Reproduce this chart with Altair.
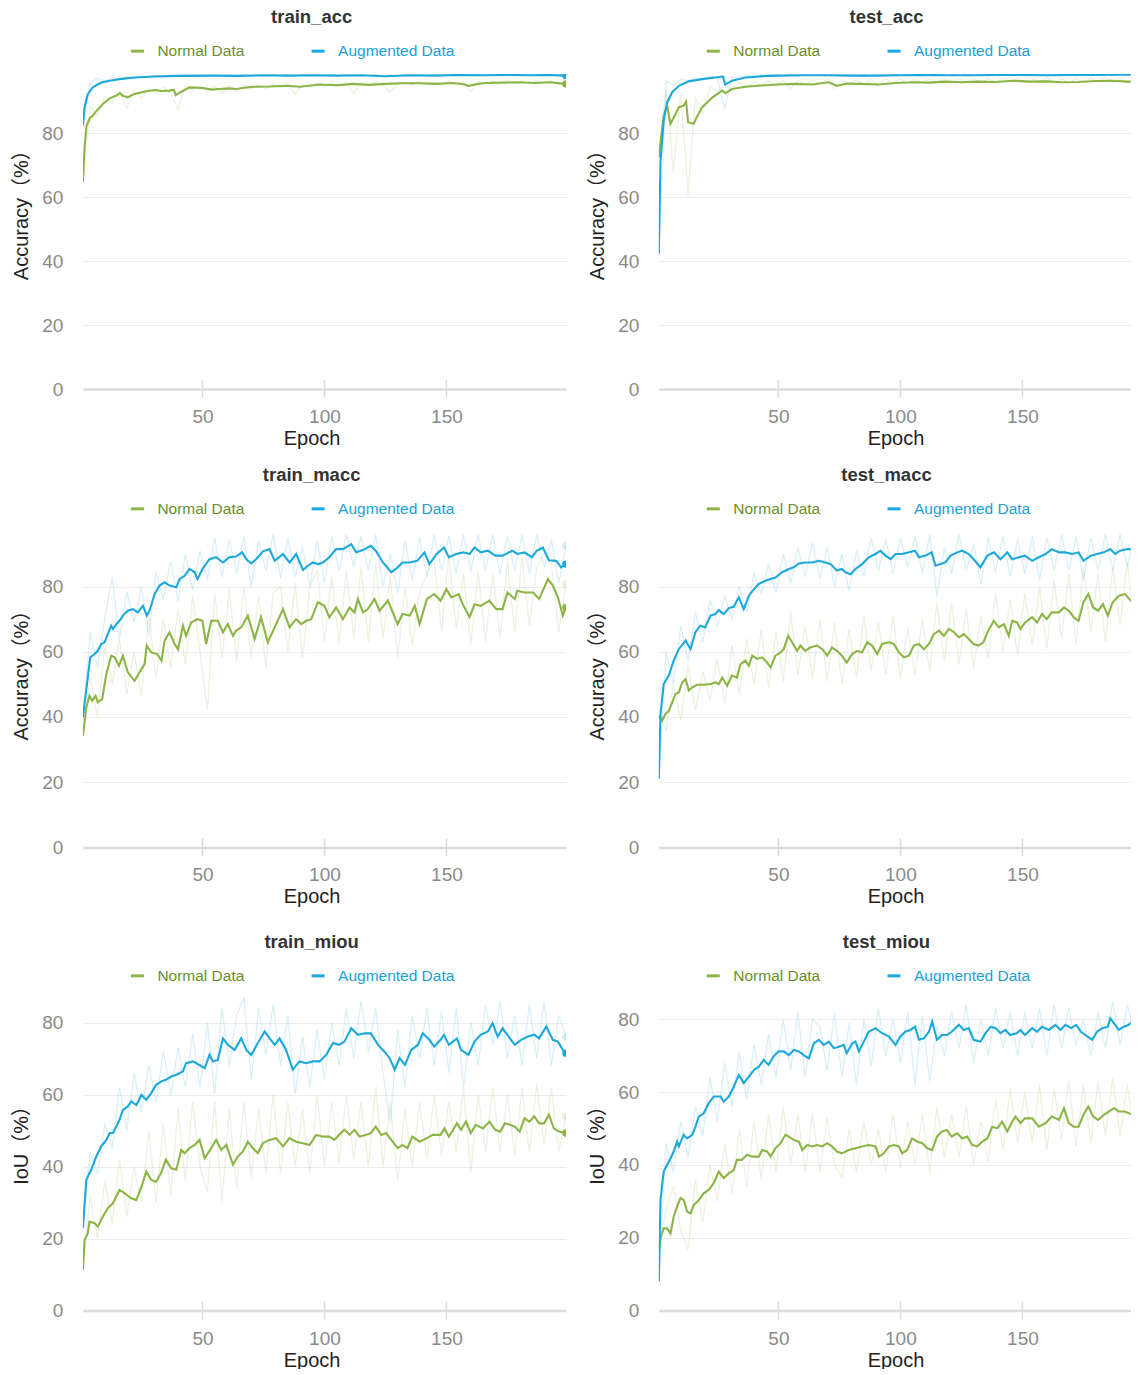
import altair as alt
import pandas as pd

GREEN = "#8db446"
BLUE = "#1da8dc"
GREEN_TXT = "#6a8e2a"
BLUE_TXT = "#1a9fd8"
SERIES = ["Normal Data", "Augmented Data"]
FONT = "Liberation Sans"
TICKS_X = [50, 100, 150]
TICKS_Y = [0, 20, 40, 60, 80]
RAW_STEP = 3  # raw curves read every 3 epochs: 1, 4, 7, ..., 199

# ---------------- train_acc ----------------
TRAIN_ACC_NORM = [(1, 64.7), (1.7, 76.0), (2.5, 82.5), (4, 85.0), (5, 85.5), (6.5, 87.0), (9.2, 89.2),
    (12, 91.0), (15, 92.0), (16.2, 92.6), (17.4, 91.8), (19.4, 91.3), (21, 92.0), (22.9, 92.5),
    (27, 93.2), (31, 93.6), (33, 93.3), (36.5, 93.4), (38.3, 93.6), (39, 92.0), (41, 92.9),
    (44.7, 94.4), (50, 94.2), (54, 93.7), (57, 93.9), (61, 94.1), (63.8, 93.9), (68, 94.4),
    (70.7, 94.6), (78, 94.7), (84, 94.9), (90, 94.6), (98, 95.3), (105, 95.1), (111.7, 95.5),
    (118, 95.2), (125, 95.5), (132, 95.7), (139, 95.7), (146, 95.5), (152.6, 95.8), (157, 95.4),
    (159, 94.9), (163, 95.5), (166, 95.8), (173, 95.9), (180, 96.0), (186, 95.8), (192, 96.0), (199, 95.5)]
TRAIN_ACC_AUG = [(1, 82.4), (1.7, 88.2), (3, 92.3), (5, 94.4), (7, 95.3), (9, 96.0), (12, 96.5),
    (16, 97.0), (22, 97.5), (30, 97.8), (40, 98.0), (55, 98.1), (65, 98.0), (75, 98.2), (85, 98.1),
    (95, 98.2), (105, 98.1), (115, 98.2), (125, 97.9), (135, 98.2), (145, 98.1), (155, 98.3),
    (165, 98.2), (175, 98.3), (185, 98.2), (192, 98.3), (199, 98.1)]
TRAIN_ACC_NORM_RAW = [64.7, 88.5, 85.5, 91.5, 89.5, 93.0, 88.0, 93.5, 91.0, 94.0,
    92.5, 94.5, 92.5, 87.6, 95.0, 93.5, 95.0, 93.0, 94.8, 92.5,
    95.0, 93.2, 95.2, 93.8, 95.3, 94.0, 95.5, 94.2, 95.6, 92.3,
    95.4, 94.3, 95.8, 94.6, 96.0, 94.8, 95.9, 92.5, 96.1, 95.0,
    96.2, 95.0, 93.0, 95.2, 96.3, 95.1, 96.4, 95.3, 96.2, 95.2,
    96.4, 95.4, 96.3, 93.0, 96.4, 95.4, 96.5, 95.5, 96.6, 95.6,
    96.5, 95.5, 96.6, 95.6, 96.5, 95.4, 95.5]
TRAIN_ACC_AUG_RAW = [82.4, 96.0, 97.2, 96.5, 97.6, 96.9, 97.8, 97.1, 97.9, 97.4,
    98.2, 97.6, 98.3, 97.7, 98.4, 97.8, 98.3, 97.9, 98.5, 97.8,
    98.4, 97.9, 98.5, 97.9, 98.4, 97.9, 98.5, 98.0, 98.4, 97.9,
    98.5, 98.0, 98.5, 98.0, 98.4, 98.0, 98.5, 97.9, 98.4, 98.0,
    98.5, 97.8, 98.3, 97.8, 98.4, 98.0, 98.5, 98.0, 98.5, 98.0,
    98.4, 98.0, 98.5, 98.0, 98.5, 98.0, 98.4, 98.0, 98.5, 98.0,
    98.4, 98.0, 98.5, 98.0, 98.4, 97.9, 98.0]

# ---------------- test_acc ----------------
TEST_ACC_NORM = [(1, 72.5), (3, 85.5), (4.4, 88.7), (5.8, 83.0), (7.8, 86.0), (9.2, 88.2), (11.2, 88.7),
    (12.2, 90.0), (13, 83.5), (15.3, 83.0), (16.5, 85.0), (18.8, 88.2), (23, 91.3), (27, 93.4),
    (28.3, 92.6), (31, 93.9), (36.5, 94.6), (43, 95.0), (50, 95.3), (57, 95.5), (64, 95.3),
    (70.7, 96.0), (74, 94.9), (78, 95.6), (84, 95.5), (91, 95.3), (98, 95.8), (105, 96.0),
    (112, 95.9), (118, 96.2), (125, 96.0), (132, 96.2), (139, 96.1), (146, 96.5), (153, 96.2),
    (160, 96.3), (166, 96.0), (173, 96.1), (180, 96.4), (187, 96.5), (193, 96.2), (199, 96.3)]
TEST_ACC_AUG = [(1, 42.3), (1.7, 71.5), (3, 84.0), (4.4, 89.7), (6.5, 92.9), (9.2, 94.9), (13.3, 96.3),
    (18.8, 97.0), (24, 97.5), (27.3, 97.8), (28.2, 95.3), (31, 96.5), (36.5, 97.5), (45, 98.0),
    (50, 98.1), (60, 98.2), (70, 98.2), (80, 98.1), (90, 98.1), (100, 98.2), (110, 98.3),
    (120, 98.2), (130, 98.2), (140, 98.3), (150, 98.3), (160, 98.2), (170, 98.3), (180, 98.3),
    (190, 98.4), (199, 98.4)]
TEST_ACC_NORM_RAW = [72.5, 94.0, 68.0, 92.5, 61.0, 91.0, 86.0, 94.5, 93.0, 95.5,
    94.0, 96.0, 94.5, 96.3, 95.0, 96.5, 95.2, 96.5, 94.0, 96.6,
    95.0, 96.8, 95.5, 97.0, 94.0, 96.8, 95.5, 96.8, 95.3, 96.9,
    95.0, 97.0, 95.8, 97.1, 95.8, 97.0, 95.9, 97.2, 96.0, 97.2,
    95.8, 97.2, 96.0, 97.3, 95.9, 97.2, 96.0, 97.4, 96.2, 97.3,
    95.9, 97.3, 96.0, 97.4, 95.8, 97.2, 95.7, 97.3, 95.9, 97.4,
    96.1, 97.5, 96.0, 97.4, 95.9, 97.3, 96.3]
TEST_ACC_AUG_RAW = [42.3, 96.5, 95.0, 97.0, 96.5, 97.5, 97.0, 98.0, 97.5, 87.6,
    97.5, 97.8, 98.2, 97.8, 98.4, 97.9, 98.4, 98.0, 98.5, 98.0,
    98.5, 98.0, 98.5, 98.1, 98.5, 98.0, 98.5, 98.1, 98.5, 98.0,
    98.6, 98.1, 98.5, 98.1, 98.6, 98.1, 98.6, 98.2, 98.6, 98.1,
    98.6, 98.1, 98.5, 98.1, 98.6, 98.2, 98.6, 98.2, 98.6, 98.2,
    98.6, 98.2, 98.6, 98.2, 98.6, 98.2, 98.6, 98.2, 98.6, 98.2,
    98.6, 98.3, 98.6, 98.3, 98.6, 98.3, 98.6]

# ---------------- train_macc ----------------
TRAIN_MACC_NORM = [(1, 34.3), (2.4, 42.9), (3.7, 46.5), (4.8, 45.0), (6.2, 46.5), (7.1, 44.5), (8.9, 45.5),
    (10.6, 53.2), (12.6, 58.8), (14, 58.3), (15.8, 55.7), (17.4, 58.8), (19.4, 53.7), (22.2, 51.1),
    (24.2, 53.7), (26.3, 56.2), (27.2, 61.9), (29, 59.8), (31.5, 59.3), (33.2, 57.3), (34.5, 63.4),
    (36.5, 66.0), (38.6, 62.4), (40, 60.8), (42, 68.0), (43.3, 64.9), (45.4, 69.0), (48, 70.0),
    (50, 69.5), (51.5, 62.4), (53.6, 69.5), (56.3, 69.5), (58.4, 66.0), (60.4, 68.5), (62.5, 64.9),
    (63.8, 66.5), (65.9, 67.5), (68.6, 71.1), (71.4, 63.9), (74, 70.6), (76.8, 62.9), (79.6, 67.5),
    (83, 73.1), (85.7, 67.5), (88.4, 70.0), (90.5, 68.5), (92.5, 69.5), (94.6, 70.0), (97.3, 75.2),
    (100, 74.1), (102, 70.6), (104.8, 73.6), (107.6, 70.0), (110.3, 73.6), (112.3, 72.1), (113.7, 76.2),
    (115.8, 72.1), (117.8, 73.1), (120.5, 76.2), (122.6, 72.6), (126, 75.7), (130, 68.5), (132, 71.6),
    (135, 71.1), (137, 74.1), (139, 68.5), (142, 76.2), (145, 77.7), (147.6, 75.7), (150, 79.2),
    (152, 76.7), (155, 77.7), (157, 74.1), (159.5, 70.6), (161.5, 74.6), (164, 74.1), (167.6, 75.7),
    (170.4, 73.1), (173, 73.1), (175, 78.2), (178, 76.2), (179, 78.7), (182, 78.2), (185.5, 78.2),
    (188, 76.2), (191.6, 82.3), (193.6, 80.3), (195.7, 76.7), (197.7, 71.1), (199, 73.6)]
TRAIN_MACC_AUG = [(1, 39.9), (4, 58.3), (5.8, 59.3), (7.1, 60.3), (8.5, 62.4), (9.9, 62.9), (11.2, 65.4),
    (12.6, 68.0), (13.3, 67.0), (14.7, 68.5), (16, 69.5), (17.4, 71.1), (19.4, 72.6), (21.5, 73.1),
    (23.5, 72.1), (25.6, 74.1), (27.2, 71.1), (28.3, 72.6), (30.4, 77.7), (32.4, 80.3), (34.5, 81.3),
    (36.5, 80.3), (39.3, 79.8), (40.6, 82.3), (42.7, 83.3), (44.7, 85.4), (46.8, 84.4), (48, 82.3),
    (50, 85.4), (52.9, 88.4), (55.6, 89.0), (58.4, 87.4), (61, 89.0), (63.8, 89.2), (66.3, 90.5),
    (68, 88.4), (70, 87.1), (72, 88.4), (74.8, 90.8), (77.5, 91.5), (79.6, 87.9), (83, 90.0),
    (85.7, 87.4), (88.4, 90.0), (91.2, 85.1), (93.2, 86.4), (95.3, 87.4), (97.3, 86.9), (99.4, 87.4),
    (102, 89.0), (104.8, 91.5), (107.6, 91.5), (111, 93.0), (113, 90.5), (115.8, 91.2), (119, 92.5),
    (121, 91.0), (124, 87.4), (127.4, 84.4), (130, 85.9), (132, 87.4), (135, 87.4), (138, 87.9),
    (141, 90.5), (143, 86.9), (146, 90.0), (149, 92.0), (151, 89.0), (154, 90.0), (157, 90.5),
    (159.5, 90.0), (161.5, 92.0), (164, 90.5), (167, 91.0), (170, 89.5), (173, 89.5), (177, 91.0),
    (179, 90.0), (182, 90.5), (185, 89.0), (187, 91.0), (189.5, 92.0), (192, 88.1), (195, 87.9),
    (197, 85.9), (199, 86.9)]
TRAIN_MACC_NORM_RAW = [34.3, 52.0, 40.0, 62.0, 50.0, 64.0, 47.0, 60.0, 46.5, 72.0,
    52.0, 70.0, 55.0, 73.0, 56.0, 77.0, 60.0, 42.0, 78.0, 58.0,
    79.0, 57.0, 80.0, 58.0, 77.0, 55.0, 78.0, 80.0, 60.0, 81.0,
    58.0, 80.0, 85.0, 63.0, 83.0, 62.0, 85.0, 64.0, 86.0, 63.0,
    87.0, 64.0, 83.0, 58.0, 80.0, 62.0, 78.0, 84.0, 88.0, 66.0,
    90.0, 67.0, 84.0, 62.0, 85.0, 63.0, 84.0, 64.0, 88.0, 66.0,
    89.0, 68.0, 86.0, 90.0, 87.0, 66.0, 80.8]
TRAIN_MACC_AUG_RAW = [39.9, 66.0, 55.0, 70.5, 83.0, 64.0, 78.5, 69.0, 80.0, 65.0,
    84.5, 76.0, 88.0, 75.5, 90.0, 79.0, 91.0, 82.0, 95.0, 83.0,
    94.5, 84.0, 95.5, 80.0, 94.0, 85.0, 96.0, 82.5, 95.0, 83.0,
    92.0, 80.0, 94.0, 81.0, 95.5, 85.0, 96.0, 86.0, 95.5, 85.0,
    96.0, 80.0, 90.0, 78.0, 94.0, 82.0, 95.0, 83.0, 96.0, 85.0,
    95.5, 84.0, 96.0, 84.5, 96.0, 85.0, 96.0, 84.0, 95.5, 85.0,
    96.0, 84.0, 96.0, 86.0, 94.5, 81.0, 92.5]

# ---------------- test_macc ----------------
TEST_MACC_NORM = [(1, 40.4), (2.4, 38.9), (3.7, 40.9), (5.1, 41.9), (6.5, 44.5), (7.8, 47.0), (9.2, 47.5),
    (10.6, 50.6), (12, 51.6), (13.3, 48.1), (14.7, 49.1), (16.7, 49.9), (19.4, 49.9), (22.2, 50.1),
    (24.2, 50.6), (25.6, 50.1), (27, 52.1), (29, 49.6), (31, 52.7), (33, 52.1), (34.5, 56.2),
    (36.5, 57.3), (37.9, 55.7), (39.3, 58.8), (41.3, 57.8), (43.3, 58.3), (45.4, 56.7), (46.8, 55.2),
    (48.8, 58.8), (50.9, 59.8), (52.2, 60.8), (54, 64.9), (55.6, 62.9), (57.7, 60.3), (59, 61.9),
    (61, 60.3), (63, 61.3), (65.9, 61.9), (68, 60.8), (70, 58.8), (72, 61.3), (74, 60.3), (76, 58.8),
    (78, 56.7), (80.2, 59.3), (82.3, 60.3), (84.3, 59.8), (86.4, 62.9), (88.4, 61.9), (90.5, 59.3),
    (92.5, 62.4), (95.3, 62.9), (97.3, 62.4), (99.4, 59.8), (101.4, 58.3), (103.5, 58.8), (105.5, 61.9),
    (107.6, 62.4), (109.6, 60.8), (111.7, 62.4), (113.7, 65.4), (115.8, 66.5), (117.8, 64.9), (119.9, 67.0),
    (122, 66.0), (124, 64.4), (126, 65.4), (128, 63.9), (130, 62.4), (132, 61.9), (134, 62.9), (136, 66.5),
    (138.3, 69.5), (140.3, 67.5), (142.4, 68.5), (144.4, 64.9), (145.8, 69.5), (147.8, 69.0), (149.2, 67.0),
    (151, 68.9), (154, 70.6), (156, 69.0), (158, 71.6), (160, 70.0), (162, 72.1), (165, 72.1), (167, 73.6),
    (169, 72.6), (171, 70.6), (173, 69.5), (175, 75.2), (177, 77.7), (179, 73.6), (181, 72.6), (183, 74.6),
    (185, 71.1), (187, 75.2), (189.5, 77.2), (192, 77.7), (195, 75.2), (197, 72.6), (198.4, 70.0)]
TEST_MACC_AUG = [(1, 21.0), (1.7, 40.9), (3, 50.1), (5.1, 52.7), (7.1, 57.3), (9.2, 60.8), (12, 63.4),
    (14, 60.8), (16, 66.0), (18, 68.0), (20, 67.5), (22.2, 71.1), (24.2, 71.6), (25.6, 72.8), (27.6, 71.6),
    (29.7, 73.4), (31.7, 73.8), (33.8, 76.7), (35.8, 73.1), (37.9, 77.2), (40, 79.2), (42, 80.8),
    (44.7, 81.8), (46.8, 82.3), (48.8, 82.8), (51.5, 84.4), (54.3, 85.4), (56.3, 85.9), (58.4, 87.1),
    (61, 87.4), (63.8, 87.4), (66.6, 87.9), (69.3, 87.4), (71.4, 86.9), (74, 84.9), (76, 85.4),
    (77.5, 84.4), (79.6, 83.8), (81.6, 85.4), (84.3, 86.9), (87, 89.0), (89.8, 90.0), (91.8, 91.0),
    (93.9, 89.5), (96, 88.4), (98, 90.0), (100.7, 90.0), (103.5, 90.5), (106, 91.0), (107.6, 89.0),
    (110.3, 89.5), (112.8, 90.5), (114.4, 86.4), (116.5, 86.9), (118.5, 87.4), (120.5, 89.5), (123.3, 90.5),
    (125.3, 91.0), (128, 90.0), (130, 88.4), (132.8, 85.9), (135.6, 89.5), (138.3, 90.5), (141, 88.4),
    (143.8, 90.5), (145.8, 88.4), (148.5, 89.0), (151, 89.5), (154, 87.9), (156.7, 89.0), (159.5, 90.0),
    (162, 91.5), (165, 90.5), (167.6, 90.5), (170.4, 90.0), (173, 90.5), (175, 87.9), (178, 89.5),
    (180.6, 90.0), (183.4, 90.5), (186, 91.5), (188, 90.0), (190, 91.0), (193, 91.5), (195.7, 91.5),
    (197.7, 90.0), (198.4, 92.0)]
TEST_MACC_NORM_RAW = [40.4, 36.0, 50.0, 39.0, 56.0, 42.0, 54.0, 45.0, 58.0, 44.0,
    62.0, 47.0, 64.0, 50.0, 67.0, 49.0, 66.0, 51.0, 72.0, 53.0,
    68.0, 52.0, 70.0, 51.0, 69.0, 50.0, 67.0, 52.0, 71.0, 54.0,
    69.0, 53.0, 71.0, 52.0, 67.0, 53.0, 70.0, 54.0, 75.0, 57.0,
    75.0, 56.0, 73.0, 55.0, 71.0, 58.0, 78.0, 60.0, 76.0, 59.0,
    78.0, 62.0, 80.0, 61.0, 82.0, 64.0, 84.0, 62.0, 86.0, 66.0,
    84.0, 63.0, 86.0, 68.0, 88.0, 65.0, 64.0]
TEST_MACC_AUG_RAW = [21.0, 60.0, 50.0, 68.0, 57.0, 72.0, 63.0, 76.0, 68.0, 77.0,
    70.0, 80.0, 72.0, 84.0, 78.0, 87.0, 78.0, 90.0, 81.0, 92.0,
    83.0, 93.5, 82.5, 92.0, 80.0, 90.0, 78.5, 91.0, 83.0, 95.0,
    85.0, 94.5, 84.0, 95.0, 86.0, 95.5, 84.0, 96.0, 77.0, 92.0,
    84.0, 96.0, 85.0, 93.0, 80.5, 95.0, 84.5, 95.5, 83.0, 94.5,
    84.0, 95.5, 82.0, 95.0, 85.0, 96.0, 85.0, 95.5, 82.0, 95.0,
    85.0, 96.0, 85.0, 96.0, 86.0, 95.5, 93.0]

# ---------------- train_miou ----------------
TRAIN_MIOU_NORM = [(1, 11.3), (1.7, 19.6), (3, 21.5), (3.7, 24.7), (5.8, 24.3), (7.1, 23.3), (9.2, 26.1),
    (11.2, 28.4), (13.3, 29.8), (16, 33.5), (18, 32.6), (20.8, 31.2), (22.9, 30.7), (25, 34.4), (27, 38.6),
    (29, 36.3), (31, 35.8), (33, 38.1), (35, 41.9), (37.2, 39.5), (39.3, 39.1), (41.3, 44.6), (42.7, 43.7),
    (44.7, 45.1), (46.8, 46.0), (48.8, 47.4), (50.9, 42.3), (53.6, 45.1), (55.6, 47.4), (57.7, 44.6),
    (59.8, 46.0), (62.5, 40.5), (64.5, 42.8), (66.6, 44.2), (68.6, 46.9), (70.7, 45.1), (72.7, 43.7),
    (74.8, 46.5), (77.5, 47.4), (80.2, 47.9), (83, 45.6), (85.7, 47.9), (88.4, 46.9), (91.2, 46.5),
    (93.9, 46.0), (96.6, 48.8), (99.4, 48.3), (102, 48.3), (104, 47.4), (106, 48.8), (108.2, 50.2),
    (110.3, 48.8), (112.3, 50.2), (114.4, 48.3), (117.1, 48.8), (119, 49.3), (121, 51.1), (123.3, 48.8),
    (125.3, 49.3), (127.4, 47.4), (130, 45.1), (132, 46.0), (134, 45.1), (136, 48.3), (139, 46.9),
    (142, 47.9), (144.4, 48.8), (147.6, 48.8), (149.2, 50.6), (151, 48.3), (154.3, 52.0), (156, 50.2),
    (158, 52.5), (160, 49.3), (162, 51.6), (165, 50.6), (167.6, 52.5), (170, 50.2), (172, 49.7),
    (174, 52.0), (176, 51.6), (178, 51.1), (180, 49.7), (182, 53.4), (184, 52.5), (186, 53.9),
    (188, 52.0), (190, 52.0), (192, 54.4), (194, 50.6), (196, 49.7), (199, 49.3)]
TRAIN_MIOU_AUG = [(1, 22.9), (2.4, 36.3), (4.4, 39.1), (6.5, 42.8), (8.5, 45.6), (10.6, 47.4), (12, 49.3),
    (13.3, 49.3), (14.7, 51.1), (16, 53.0), (17.4, 55.7), (19.4, 56.7), (20.8, 58.1), (22.9, 57.1),
    (25, 59.9), (27, 58.5), (29, 60.4), (31, 62.7), (33, 63.6), (35, 64.1), (37.2, 65.0), (39.3, 65.5),
    (42, 66.4), (43.3, 68.7), (46, 69.2), (48.8, 68.2), (50.9, 67.3), (52.9, 71.0), (54.3, 69.2),
    (56.3, 69.6), (58.4, 75.6), (60.4, 73.8), (63.2, 72.4), (65.9, 75.6), (68, 72.4), (70, 71.0),
    (72.7, 74.3), (75.5, 77.5), (77.5, 75.6), (79.6, 73.8), (81.6, 75.6), (84.3, 72.4), (87, 66.9),
    (89.8, 69.2), (92.5, 68.7), (95.3, 69.2), (98, 69.2), (100.7, 71.0), (103.5, 74.3), (106, 73.8),
    (108.2, 74.7), (111, 78.4), (113.7, 76.6), (116.5, 77.0), (119, 77.0), (122, 73.8), (124.6, 71.9),
    (126.7, 70.1), (128.8, 66.9), (130.8, 70.1), (133, 68.2), (135.6, 72.4), (138.3, 73.8), (140.3, 77.0),
    (143, 75.2), (145, 73.3), (147.6, 75.2), (149, 76.6), (151, 73.8), (154.3, 75.6), (156, 72.4),
    (159, 71.0), (161.5, 74.7), (164, 76.6), (167, 77.5), (168.9, 79.8), (171, 76.1), (173, 78.4),
    (176, 75.6), (178, 73.8), (180.6, 75.2), (183.4, 76.1), (186, 76.6), (188, 75.6), (190.9, 78.9),
    (193.6, 75.2), (195.7, 74.7), (197.7, 72.4), (199, 71.5)]
TRAIN_MIOU_NORM_RAW = [11.3, 32.0, 20.0, 36.0, 24.0, 42.0, 26.0, 40.0, 30.0, 50.0,
    30.0, 52.0, 32.0, 56.0, 36.0, 58.0, 40.0, 33.0, 58.0, 30.0,
    56.0, 34.0, 58.0, 37.0, 56.0, 38.0, 60.0, 38.0, 58.0, 40.0,
    56.0, 38.0, 60.0, 40.0, 58.0, 41.0, 60.0, 42.0, 58.0, 40.0,
    62.0, 40.0, 58.0, 36.0, 56.0, 40.0, 58.0, 42.0, 60.0, 43.0,
    58.0, 44.0, 62.0, 38.0, 60.0, 44.0, 62.0, 44.0, 60.0, 43.0,
    62.0, 44.0, 63.0, 46.0, 62.0, 44.0, 53.9]
TRAIN_MIOU_AUG_RAW = [22.9, 44.0, 38.0, 52.0, 45.0, 62.0, 50.0, 66.0, 55.0, 68.0,
    58.0, 72.0, 60.0, 73.0, 62.0, 77.0, 62.0, 80.0, 60.0, 84.0,
    68.0, 82.0, 87.0, 64.0, 84.0, 71.0, 85.0, 68.0, 82.0, 60.0,
    76.0, 62.0, 78.0, 64.0, 80.0, 68.0, 84.0, 70.0, 86.0, 72.0,
    84.0, 66.0, 52.0, 78.0, 62.0, 82.0, 70.0, 84.0, 68.0, 83.0,
    66.0, 84.0, 62.0, 80.0, 68.0, 85.0, 74.0, 86.0, 70.0, 82.0,
    68.0, 85.0, 70.0, 86.0, 68.0, 82.0, 76.0]

# ---------------- test_miou ----------------
TEST_MIOU_NORM = [(1, 17.1), (1.7, 19.9), (3, 22.6), (4.4, 22.6), (5.8, 21.2), (7.1, 25.8), (8.5, 28.6),
    (9.9, 30.9), (11.2, 30.4), (12.6, 27.2), (14, 26.7), (15.3, 29.0), (17.4, 30.4), (19.4, 32.2),
    (21.5, 33.2), (23.5, 35.0), (25.6, 38.2), (27.6, 36.4), (29.7, 37.7), (31.7, 38.6), (33, 41.4),
    (35, 41.4), (37.2, 42.8), (39.3, 42.3), (42, 42.3), (43.3, 44.1), (45.4, 43.7), (46.8, 42.3),
    (48.8, 44.6), (50.9, 46.0), (52.9, 48.3), (54.3, 47.8), (56.3, 46.9), (58.4, 46.4), (59.8, 44.1),
    (61.8, 45.5), (63.8, 45.1), (65.9, 45.5), (68, 45.1), (70, 46.0), (72, 45.1), (74, 43.7), (76, 43.2),
    (78.8, 44.1), (81.6, 44.6), (84.3, 45.1), (87, 45.5), (89.8, 45.1), (91.2, 42.3), (93.2, 43.2),
    (95.3, 45.1), (97.3, 45.5), (99.4, 45.1), (100.7, 43.2), (102.7, 44.1), (104.8, 47.3), (107, 46.4),
    (109, 46.0), (111, 44.6), (113, 44.1), (115, 47.8), (117, 49.2), (119, 49.6), (121, 47.8),
    (123.3, 48.7), (125.3, 47.3), (127.4, 47.8), (129.4, 45.5), (131.5, 45.1), (133.5, 46.4),
    (135.6, 47.3), (137.6, 50.5), (139.7, 50.1), (141.7, 51.9), (143.8, 49.2), (145.8, 51.9),
    (147.2, 53.3), (149.2, 51.5), (151, 52.8), (154, 52.8), (156.7, 50.5), (159.5, 51.5), (162, 53.3),
    (165, 52.4), (167, 55.6), (169, 51.5), (171, 50.5), (173, 50.5), (175, 53.8), (177, 56.0),
    (179, 53.3), (181, 52.4), (183.4, 53.8), (185.5, 54.7), (187.5, 55.6), (189.5, 54.7), (192, 54.7),
    (195, 53.8), (197, 52.8), (198.4, 51.0)]
TEST_MIOU_AUG = [(1, 8.0), (1.7, 30.4), (3, 38.2), (4.4, 40.0), (5.8, 41.8), (7.1, 43.7), (8.5, 46.4),
    (9.2, 45.1), (11.2, 48.3), (12.6, 47.3), (14.7, 48.3), (16, 50.5), (17.4, 53.3), (19.4, 54.2),
    (21.5, 57.0), (23.5, 58.8), (26.3, 58.8), (27.6, 57.4), (29.7, 58.8), (31.7, 61.5), (33.8, 64.7),
    (35.8, 62.5), (37.9, 64.3), (40, 66.1), (42, 67.0), (44, 68.9), (46, 67.5), (48, 69.8), (50, 71.2),
    (52.2, 71.2), (54.3, 70.2), (56.3, 71.6), (58.4, 71.2), (60.4, 70.2), (62.5, 69.3), (64.5, 73.4),
    (66.6, 74.4), (68.6, 73.0), (70.7, 73.9), (72.7, 72.1), (74.8, 72.5), (76.8, 73.0), (78, 70.7),
    (80.2, 73.4), (81.6, 73.9), (83, 71.2), (85, 73.9), (87, 76.6), (89.8, 77.6), (92.5, 76.2),
    (95.3, 75.3), (98, 73.0), (100, 75.3), (102, 76.6), (104.1, 77.1), (106, 78.0), (107.6, 74.4),
    (109.6, 74.8), (111.7, 76.6), (113, 79.4), (115, 74.4), (117, 75.7), (119, 75.7), (121, 76.6),
    (124, 78.5), (126, 77.1), (128, 77.6), (130, 74.4), (132.8, 73.9), (134.9, 76.2), (137, 78.0),
    (139, 77.6), (141, 76.2), (143, 77.1), (145, 75.7), (147.6, 76.2), (149.2, 77.1), (151, 75.7),
    (154, 77.6), (156, 76.6), (158, 78.0), (160.8, 77.1), (163.5, 78.5), (165.6, 77.1), (167.6, 78.5),
    (170, 77.6), (172, 78.5), (174, 76.6), (176.6, 75.3), (178.6, 74.4), (180.6, 76.6), (182.7, 77.6),
    (185, 78.0), (186, 80.3), (188, 78.5), (189.5, 77.1), (191.6, 78.0), (193.6, 78.5), (195.7, 79.9),
    (197, 77.6), (198.4, 80.8)]
TEST_MIOU_NORM_RAW = [17.1, 28.0, 34.0, 22.0, 16.7, 36.0, 24.0, 40.0, 30.0, 46.0,
    32.0, 50.0, 34.0, 52.0, 36.0, 54.0, 38.0, 56.0, 40.0, 54.0,
    38.0, 54.0, 38.0, 53.0, 40.0, 36.5, 50.0, 38.0, 52.0, 40.0,
    50.0, 38.0, 54.0, 39.0, 52.0, 40.0, 54.0, 38.0, 56.0, 42.0,
    54.0, 42.0, 56.0, 40.0, 52.0, 41.0, 58.0, 44.0, 61.0, 46.0,
    60.0, 46.0, 62.0, 44.0, 61.0, 47.0, 63.0, 45.0, 62.0, 46.0,
    63.0, 48.0, 64.0, 48.0, 62.0, 47.0, 50.0]
TEST_MIOU_AUG_RAW = [8.0, 46.0, 38.0, 52.0, 42.0, 56.0, 48.0, 64.0, 52.0, 68.0,
    56.0, 71.0, 58.0, 73.0, 62.0, 76.0, 64.0, 80.0, 66.0, 82.0,
    64.0, 80.0, 78.0, 66.0, 82.0, 64.0, 79.0, 62.0, 80.0, 67.0,
    83.0, 70.0, 80.0, 68.0, 82.0, 62.0, 81.0, 63.0, 78.0, 70.0,
    82.0, 72.0, 84.0, 68.0, 80.0, 70.0, 83.0, 72.0, 82.0, 70.0,
    82.0, 72.0, 83.0, 70.0, 84.0, 72.0, 83.0, 73.0, 80.0, 70.0,
    82.0, 72.0, 85.0, 73.0, 84.0, 76.0, 82.0]

W_LEFT, W_RIGHT = 483.1, 472.0
X_MAX_LEFT, X_MAX_RIGHT = 199, 194.4
ROW_H = [315, 313.4, 317.6]
Y_MAX_LEFT = [98.6, 96.13, 88.2]
Y_MAX_RIGHT = [98.6, 96.13, 87.25]
LEGEND_Y = [-31.1, -33.4, -25.4]
YTITLE_Y = [135.7, 136.1, 146.9]


def smooth_frame(pairs, name):
    return pd.DataFrame({"epoch": [p[0] for p in pairs], "value": [p[1] for p in pairs], "series": name})


def raw_frame(vals, name):
    return pd.DataFrame({"epoch": [1 + RAW_STEP * i for i in range(len(vals))], "value": vals, "series": name})


def panel(title, ytitle, norm, aug, norm_raw, aug_raw, width, height, xmax, ymax,
          leg_y, title_dx, xtitle_x, ytitle_y):
    smooth = pd.concat([smooth_frame(norm, SERIES[0]), smooth_frame(aug, SERIES[1])], ignore_index=True)
    raw = pd.concat([raw_frame(norm_raw, SERIES[0]), raw_frame(aug_raw, SERIES[1])], ignore_index=True)
    last_s = smooth.groupby("series", sort=False).tail(1)
    last_r = raw.groupby("series", sort=False).tail(1)

    xs = alt.Scale(domain=[1, xmax], nice=False, zero=False)
    ys = alt.Scale(domain=[0, ymax], nice=False, zero=False)
    cs = alt.Scale(domain=SERIES, range=[GREEN, BLUE])
    legend = alt.Legend(
        title=None, orient="none", legendX=46.5, legendY=leg_y, direction="horizontal",
        symbolType="stroke", symbolSize=169, symbolStrokeWidth=3, symbolOpacity=1,
        labelFont=FONT, labelFontSize=15.5, labelOffset=12, columnPadding=60.7, padding=0,
        labelColor=alt.ExprRef(f"datum.label === '{SERIES[0]}' ? '{GREEN_TXT}' : '{BLUE_TXT}'"),
    )
    xaxis = alt.Axis(
        values=TICKS_X, title="Epoch", grid=False, ticks=False,
        domainColor="#dcdcdc", domainWidth=2.5,
        labelFont=FONT, labelFontSize=19, labelColor="#8a8a8a", labelPadding=18.5,
        titleFont=FONT, titleFontSize=20, titleFontWeight="normal", titleColor="#222222",
        titlePadding=2, titleX=xtitle_x, titleAlign="center",
    )
    yaxis = alt.Axis(
        values=TICKS_Y, title=ytitle, domain=False, ticks=False, grid=True,
        gridColor="#ececec", gridWidth=1,
        labelFont=FONT, labelFontSize=19, labelColor="#8a8a8a", labelPadding=20,
        titleFont="Liberation Sans, Noto Sans CJK SC", titleFontSize=20, titleFontWeight="normal",
        titleColor="#222222", titlePadding=10, titleY=ytitle_y,
    )
    enc = dict(
        x=alt.X("epoch:Q", scale=xs, axis=xaxis),
        y=alt.Y("value:Q", scale=ys, axis=yaxis),
        color=alt.Color("series:N", scale=cs, legend=legend, sort=SERIES),
    )
    raw_line = alt.Chart(raw).mark_line(strokeWidth=1.3, opacity=0.17, clip=True).encode(**enc)
    smooth_line = alt.Chart(smooth).mark_line(strokeWidth=2.1, clip=True).encode(**enc)
    end_raw = alt.Chart(last_r).mark_circle(size=55, opacity=0.22, clip=True).encode(**enc)
    end_smooth = alt.Chart(last_s).mark_circle(size=55, opacity=1, clip=True).encode(**enc)
    ticks = alt.Chart(pd.DataFrame({"epoch": TICKS_X})).mark_rule(color="#dcdcdc", strokeWidth=1.5).encode(
        x=alt.X("epoch:Q", scale=xs, axis=xaxis),
        y=alt.value(height - 9), y2=alt.value(height + 9),
    )
    return alt.layer(raw_line, smooth_line, end_raw, end_smooth, ticks).properties(
        width=width, height=height,
        title=alt.TitleParams(text=title, font=FONT, fontSize=18.5, fontWeight="bold",
                              color="#333333", anchor="middle", dx=title_dx, offset=16),
    )


ACC = "Accuracy（%）"
IOU = "IoU（%）"
panels = [
    panel("train_acc", ACC, TRAIN_ACC_NORM, TRAIN_ACC_AUG, TRAIN_ACC_NORM_RAW, TRAIN_ACC_AUG_RAW,
          W_LEFT, ROW_H[0], X_MAX_LEFT, Y_MAX_LEFT[0], LEGEND_Y[0], -12.8, 228.7, YTITLE_Y[0]),
    panel("test_acc", ACC, TEST_ACC_NORM, TEST_ACC_AUG, TEST_ACC_NORM_RAW, TEST_ACC_AUG_RAW,
          W_RIGHT, ROW_H[0], X_MAX_RIGHT, Y_MAX_RIGHT[0], LEGEND_Y[0], -8.3, 236.7, YTITLE_Y[0]),
    panel("train_macc", ACC, TRAIN_MACC_NORM, TRAIN_MACC_AUG, TRAIN_MACC_NORM_RAW, TRAIN_MACC_AUG_RAW,
          W_LEFT, ROW_H[1], X_MAX_LEFT, Y_MAX_LEFT[1], LEGEND_Y[1], -12.8, 228.7, YTITLE_Y[1]),
    panel("test_macc", ACC, TEST_MACC_NORM, TEST_MACC_AUG, TEST_MACC_NORM_RAW, TEST_MACC_AUG_RAW,
          W_RIGHT, ROW_H[1], X_MAX_RIGHT, Y_MAX_RIGHT[1], LEGEND_Y[1], -8.3, 236.7, YTITLE_Y[1]),
    panel("train_miou", IOU, TRAIN_MIOU_NORM, TRAIN_MIOU_AUG, TRAIN_MIOU_NORM_RAW, TRAIN_MIOU_AUG_RAW,
          W_LEFT, ROW_H[2], X_MAX_LEFT, Y_MAX_LEFT[2], LEGEND_Y[2], -12.8, 228.7, YTITLE_Y[2]),
    panel("test_miou", IOU, TEST_MIOU_NORM, TEST_MIOU_AUG, TEST_MIOU_NORM_RAW, TEST_MIOU_AUG_RAW,
          W_RIGHT, ROW_H[2], X_MAX_RIGHT, Y_MAX_RIGHT[2], LEGEND_Y[2], -8.3, 236.7, YTITLE_Y[2]),
]

chart = alt.concat(
    *panels, columns=2, spacing={"row": 145, "column": 91.9}, bounds="flush", align="each"
).resolve_scale(
    color="independent", x="independent", y="independent"
).resolve_legend(
    color="independent"
).properties(
    padding={"left": 2.9, "top": 0, "right": 0, "bottom": -2}, background="white"
).configure_view(stroke=None)

chart.save("out.html", embed_options={"renderer": "svg", "actions": False})
